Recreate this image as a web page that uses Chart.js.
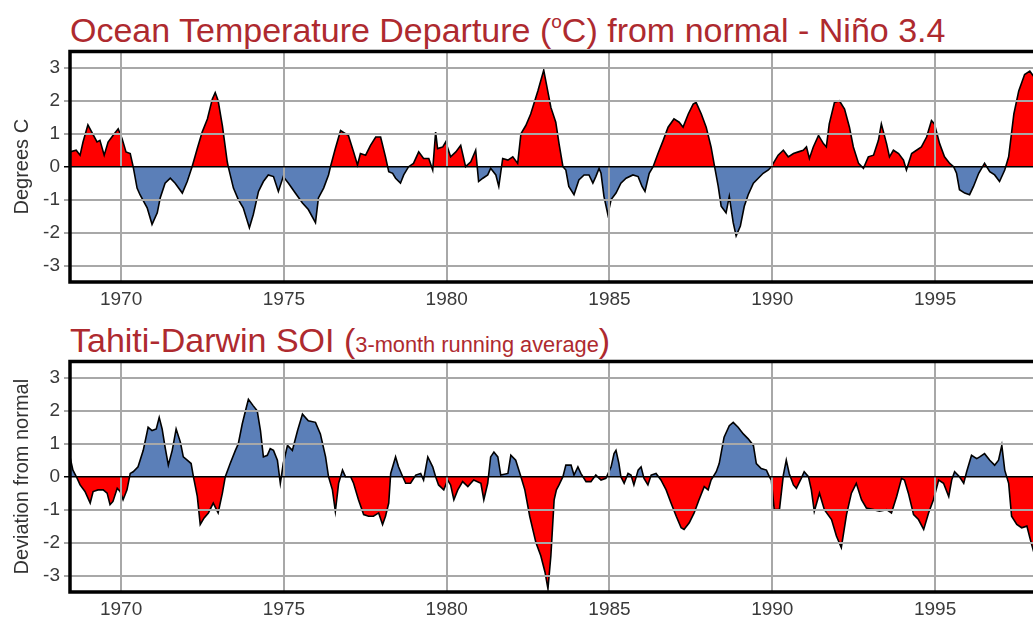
<!DOCTYPE html>
<html>
<head>
<meta charset="utf-8">
<script src="https://cdn.jsdelivr.net/npm/chart.js@4"></script>
<style>
  html, body { margin:0; padding:0; background:#fff; width:1033px; height:617px; overflow:hidden; }
  body { position:relative; font-family:"Liberation Sans", Arial, sans-serif; }
  .title { position:absolute; left:70px; color:#ae2a2f; font-size:34px; line-height:1; white-space:nowrap; }
  .title .small { font-size:21.8px; }
  .title sup { font-size:19px; vertical-align:14px; line-height:0; }
  canvas { position:absolute; left:0; }
</style>
</head>
<body>
<div class="title" style="top:13px">Ocean Temperature Departure (<sup>o</sup>C) from normal - Niño 3.4</div>
<div class="title" style="top:323px">Tahiti-Darwin SOI (<span class="small">3-month running average</span>)</div>
<canvas id="ninoChart" width="1060" height="279" style="top:36px"></canvas>
<canvas id="soiChart" width="1060" height="279" style="top:346px"></canvas>
<script>
// ─── data (decimal years / values) ───
const yearTicks = [1970, 1975, 1980, 1985, 1990, 1995];
const valueTicks = [-3, -2, -1, 0, 1, 2, 3];
const xMin = 1968.43, xMax = 1998.53;

const ninoYears = [
  1968.43,1968.62,1968.74,1968.83,1968.98,1969.14,1969.26,1969.35,1969.48,1969.60,
  1969.75,1969.91,1970.03,1970.15,1970.28,1970.37,1970.49,1970.58,1970.80,1970.95,
  1971.11,1971.20,1971.35,1971.51,1971.66,1971.88,1972.03,1972.18,1972.34,1972.49,
  1972.65,1972.80,1972.89,1972.98,1973.11,1973.26,1973.29,1973.45,1973.60,1973.75,
  1973.94,1974.06,1974.22,1974.37,1974.52,1974.68,1974.83,1974.98,1975.14,1975.35,
  1975.57,1975.75,1975.97,1976.06,1976.22,1976.37,1976.43,1976.58,1976.74,1976.89,
  1976.98,1977.14,1977.26,1977.35,1977.51,1977.66,1977.82,1977.97,1978.12,1978.22,
  1978.34,1978.43,1978.58,1978.68,1978.83,1978.98,1979.14,1979.29,1979.45,1979.57,
  1979.66,1979.72,1979.88,1979.97,1980.12,1980.28,1980.43,1980.58,1980.74,1980.89,
  1980.98,1981.11,1981.26,1981.35,1981.51,1981.60,1981.72,1981.88,1982.03,1982.18,
  1982.28,1982.43,1982.58,1982.80,1982.98,1983.20,1983.35,1983.45,1983.57,1983.66,
  1983.75,1983.91,1984.06,1984.22,1984.37,1984.49,1984.58,1984.68,1984.74,1984.83,
  1984.95,1985.05,1985.20,1985.35,1985.51,1985.72,1985.88,1986.00,1986.09,1986.22,
  1986.34,1986.49,1986.65,1986.80,1986.98,1987.14,1987.26,1987.42,1987.57,1987.66,
  1987.82,1987.97,1988.12,1988.22,1988.34,1988.43,1988.58,1988.68,1988.80,1988.89,
  1989.02,1989.14,1989.26,1989.42,1989.57,1989.72,1989.88,1989.97,1990.18,1990.34,
  1990.49,1990.65,1990.80,1990.95,1991.05,1991.14,1991.26,1991.42,1991.57,1991.66,
  1991.75,1991.91,1992.06,1992.22,1992.37,1992.49,1992.65,1992.80,1992.95,1993.11,
  1993.26,1993.35,1993.51,1993.60,1993.72,1993.88,1994.03,1994.12,1994.28,1994.43,
  1994.58,1994.74,1994.89,1994.98,1995.14,1995.29,1995.45,1995.57,1995.66,1995.75,
  1995.91,1996.06,1996.18,1996.34,1996.52,1996.68,1996.83,1996.98,1997.14,1997.26,
  1997.42,1997.57,1997.75,1997.91,1998.06,1998.28
];
const ninoValues = [
  0.45,0.5,0.35,0.75,1.27,0.97,0.75,0.8,0.35,0.75,
  0.95,1.15,0.85,0.45,0.4,0,-0.65,-0.85,-1.25,-1.75,
  -1.4,-0.95,-0.5,-0.35,-0.5,-0.8,-0.45,0,0.55,1.05,
  1.45,2.05,2.25,2.0,1.25,0.15,0,-0.65,-1.0,-1.25,
  -1.85,-1.45,-0.75,-0.45,-0.25,-0.3,-0.75,-0.3,-0.5,-0.8,
  -1.1,-1.3,-1.7,-0.95,-0.65,-0.25,0,0.55,1.1,1.0,
  0.95,0.45,0.05,0.4,0.35,0.65,0.9,0.9,0.3,-0.15,
  -0.2,-0.35,-0.5,-0.25,0,0.1,0.45,0.25,0.25,-0.1,
  1.05,0.55,0.6,0.75,0.3,0.45,0.65,0,0.15,0.5,
  -0.45,-0.35,-0.25,-0.05,-0.25,-0.6,0.25,0.2,0.3,0.1,
  1.0,1.25,1.6,2.3,2.93,1.8,1.35,0.7,0,-0.1,
  -0.6,-0.85,-0.4,-0.25,-0.25,-0.5,-0.3,-0.05,-0.2,-0.9,
  -1.45,-1.0,-0.8,-0.5,-0.35,-0.25,-0.3,-0.6,-0.75,-0.2,
  0,0.4,0.8,1.2,1.45,1.35,1.2,1.6,1.9,1.95,
  1.6,1.2,0.6,0.05,-0.6,-1.2,-1.4,-0.9,-1.7,-2.1,
  -1.8,-1.2,-0.85,-0.5,-0.35,-0.2,-0.1,0,0.35,0.5,
  0.3,0.4,0.45,0.5,0.6,0.25,0.6,0.95,0.7,0.6,
  1.3,1.95,2.0,1.75,1.2,0.6,0.1,-0.05,0.3,0.35,
  0.8,1.3,0.7,0.3,0.5,0.4,0.2,-0.1,0.4,0.5,
  0.6,0.9,1.4,1.3,0.7,0.3,0.1,0,-0.2,-0.7,
  -0.8,-0.85,-0.6,-0.2,0.1,-0.15,-0.25,-0.45,-0.1,0.3,
  1.6,2.3,2.8,2.9,2.7,2.4
];

const soiYears = [
  1968.43,1968.52,1968.65,1968.74,1968.89,1969.05,1969.14,1969.29,1969.45,1969.57,
  1969.66,1969.75,1969.88,1969.97,1970.06,1970.18,1970.28,1970.37,1970.52,1970.68,
  1970.83,1970.95,1971.08,1971.17,1971.26,1971.35,1971.45,1971.57,1971.69,1971.82,
  1971.91,1972.03,1972.15,1972.22,1972.34,1972.43,1972.55,1972.68,1972.83,1972.98,
  1973.11,1973.20,1973.35,1973.51,1973.60,1973.72,1973.82,1973.91,1974.06,1974.18,
  1974.28,1974.37,1974.49,1974.58,1974.68,1974.80,1974.89,1974.98,1975.11,1975.26,
  1975.42,1975.57,1975.75,1975.97,1976.12,1976.28,1976.37,1976.49,1976.58,1976.68,
  1976.80,1976.89,1977.05,1977.14,1977.29,1977.45,1977.60,1977.75,1977.91,1978.03,
  1978.12,1978.22,1978.28,1978.43,1978.52,1978.65,1978.74,1978.89,1979.05,1979.20,
  1979.29,1979.42,1979.57,1979.66,1979.75,1979.91,1980.03,1980.12,1980.22,1980.34,
  1980.49,1980.65,1980.74,1980.83,1981.05,1981.14,1981.26,1981.35,1981.45,1981.57,
  1981.66,1981.88,1981.97,1982.12,1982.28,1982.40,1982.55,1982.74,1982.89,1983.02,
  1983.11,1983.20,1983.30,1983.37,1983.45,1983.57,1983.66,1983.82,1983.91,1984.03,
  1984.12,1984.28,1984.43,1984.58,1984.74,1984.89,1985.05,1985.14,1985.20,1985.29,
  1985.35,1985.45,1985.57,1985.66,1985.75,1985.88,1985.97,1986.06,1986.18,1986.28,
  1986.43,1986.58,1986.74,1986.89,1987.05,1987.20,1987.29,1987.45,1987.60,1987.75,
  1987.91,1988.03,1988.12,1988.28,1988.37,1988.52,1988.68,1988.80,1988.95,1989.11,
  1989.26,1989.42,1989.51,1989.66,1989.82,1989.91,1989.97,1990.06,1990.22,1990.34,
  1990.43,1990.52,1990.65,1990.74,1990.89,1990.98,1991.11,1991.20,1991.29,1991.45,
  1991.60,1991.82,1991.97,1992.12,1992.28,1992.43,1992.58,1992.74,1992.89,1993.11,
  1993.29,1993.51,1993.66,1993.82,1993.97,1994.06,1994.18,1994.34,1994.49,1994.65,
  1994.80,1994.95,1995.11,1995.26,1995.42,1995.51,1995.60,1995.75,1995.88,1995.97,
  1996.12,1996.28,1996.37,1996.52,1996.68,1996.83,1996.95,1997.05,1997.14,1997.26,
  1997.35,1997.51,1997.66,1997.82,1997.91,1998.06,1998.28
];
const soiValues = [
  0.6,0.2,-0.05,-0.25,-0.45,-0.8,-0.45,-0.4,-0.4,-0.5,
  -0.85,-0.75,-0.35,-0.45,-0.7,-0.4,0.1,0.15,0.3,0.8,
  1.5,1.4,1.45,1.8,1.45,0.9,0.35,0.8,1.45,1.05,
  0.6,0.5,0.4,0,-0.6,-1.45,-1.25,-1.1,-0.8,-1.1,
  -0.5,0,0.4,0.8,1.0,1.6,2.0,2.35,2.15,2.0,
  1.4,0.6,0.65,0.85,0.8,0.5,-0.2,0.4,0.95,0.8,
  1.4,1.9,1.7,1.65,1.3,0.6,0,-0.4,-1.05,-0.2,
  0.2,0,0,-0.2,-0.7,-1.15,-1.2,-1.2,-1.1,-1.45,
  -1.2,-0.8,0.1,0.6,0.3,0,-0.2,-0.2,0.05,0.1,
  -0.1,0.6,0.3,0,-0.25,-0.4,-0.1,-0.25,-0.7,-0.4,
  -0.15,-0.3,-0.2,-0.1,-0.2,-0.7,-0.2,0.6,0.75,0.6,
  0.05,0.1,0.65,0.5,0,-0.4,-1.2,-2.0,-2.4,-2.9,
  -3.4,-2.4,-0.7,-0.4,-0.25,0,0.35,0.35,0.05,0.3,
  0.1,-0.15,-0.15,0.05,-0.1,-0.05,0.3,0.7,0.8,0.4,
  0,-0.2,0.1,0.05,-0.25,0.2,0.3,-0.05,-0.25,0.05,
  0.1,-0.1,-0.4,-0.8,-1.2,-1.55,-1.6,-1.4,-1.1,-0.7,
  -0.3,-0.4,-0.1,0.15,0.4,1.2,1.55,1.65,1.5,1.3,
  1.15,0.95,0.4,0.25,0.2,0,-0.1,-1.0,-1.0,0.05,
  0.5,0.1,-0.25,-0.35,-0.05,0.15,0,-0.4,-1.05,-0.5,
  -1.0,-1.3,-1.8,-2.15,-1.15,-0.5,-0.2,-0.7,-0.95,-1.0,
  -1.05,-1.0,-1.1,-0.6,-0.05,-0.1,-0.5,-1.15,-1.3,-1.6,
  -1.1,-0.7,-0.1,-0.2,-0.6,-0.1,0.15,0,-0.2,0.15,
  0.65,0.55,0.6,0.7,0.5,0.35,0.5,0.95,0.2,-0.2,
  -1.2,-1.45,-1.55,-1.5,-1.85,-2.4,-2.7
];

const RED = '#ff0000';
const BLUE = '#5b7fb8';
const FONT = '"Liberation Sans", Arial, sans-serif';

// black frame round the plot area (left, top, bottom; right side is off-page)
const plotFrame = {
  id: 'plotFrame',
  afterDraw(chart) {
    const { ctx, chartArea: a } = chart;
    ctx.save();
    ctx.strokeStyle = '#000';
    ctx.lineWidth = 3.5;
    ctx.lineJoin = 'miter';
    ctx.beginPath();
    ctx.moveTo(a.right + 20, a.top);
    ctx.lineTo(a.left, a.top);
    ctx.lineTo(a.left, a.bottom);
    ctx.lineTo(a.right + 20, a.bottom);
    ctx.stroke();
    ctx.restore();
  }
};

function makeChart(id, years, values, yTitle, aboveColor, belowColor) {
  const pts = years.map((x, i) => ({ x, y: values[i] }));
  return new Chart(document.getElementById(id), {
    type: 'line',
    data: { datasets: [{
      data: pts,
      borderColor: '#000', borderWidth: 1.6, pointRadius: 0, tension: 0,
      fill: { target: 'origin', above: aboveColor, below: belowColor },
    }]},
    options: {
      responsive: false, animation: false,
      layout: { padding: { top: 14, right: 10, left: 0, bottom: 0 } },
      plugins: { legend: { display: false }, tooltip: { enabled: false } },
      scales: {
        x: {
          type: 'linear', min: xMin, max: xMax,
          afterBuildTicks: s => { s.ticks = yearTicks.map(v => ({ value: v })); },
          afterFit: s => { s.height = 33; },
          grid: { color: '#a8a8a8', lineWidth: 2, drawTicks: false, z: 1 },
          border: { display: false },
          ticks: { color: '#3a3a3a', padding: 6, maxRotation: 0,
            font: { family: FONT, size: 19 }, callback: v => String(v) },
        },
        y: {
          min: -3.5, max: 3.5,
          afterBuildTicks: s => { s.ticks = valueTicks.map(v => ({ value: v })); },
          afterFit: s => { s.width = 70; },
          grid: { z: 1, tickLength: 6,
            color: c => (c.tick && c.tick.value === 0) ? '#000' : '#a8a8a8',
            lineWidth: c => (c.tick && c.tick.value === 0) ? 1.5 : 2 },
          border: { display: false },
          ticks: { color: '#3a3a3a', padding: 4, font: { family: FONT, size: 19 } },
          title: { display: true, text: yTitle, color: '#333',
            font: { family: FONT, size: 20 }, padding: { top: 10, bottom: 0 } },
        },
      },
    },
    plugins: [plotFrame],
  });
}

makeChart('ninoChart', ninoYears, ninoValues, 'Degrees C', RED, BLUE);
makeChart('soiChart', soiYears, soiValues, 'Deviation from normal', BLUE, RED);
</script>
</body>
</html>
